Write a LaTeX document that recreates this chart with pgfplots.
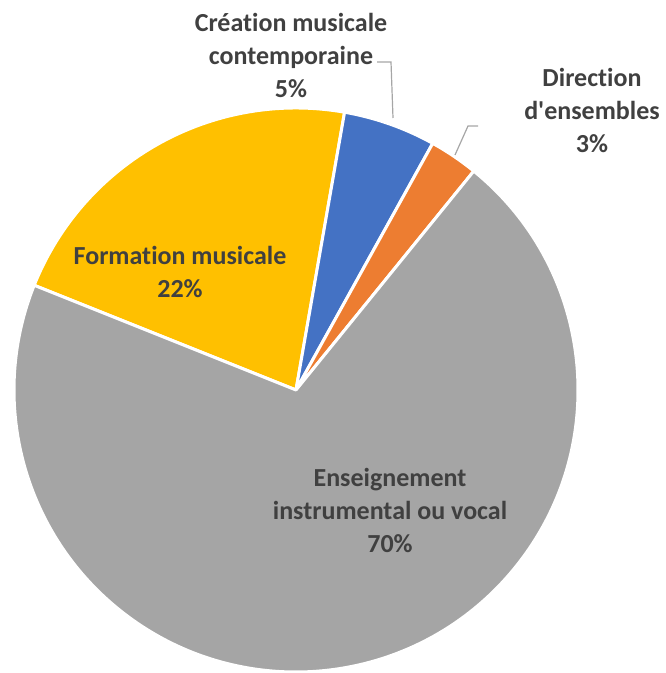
\documentclass[border=0pt]{standalone}
\usepackage{fontspec}
\setmainfont{Carlito}[Ligatures={TeX,NoCommon}]
\usepackage{pgfplots}
\pgfplotsset{compat=1.18}
\definecolor{cYel}{HTML}{FFC000}
\definecolor{cBlue}{HTML}{4472C4}
\definecolor{cOr}{HTML}{ED7D31}
\definecolor{cGrey}{HTML}{A5A5A5}
\definecolor{txt}{HTML}{404040}
\definecolor{lead}{HTML}{A6A6A6}
\tikzset{lbl/.style={align=center, text=txt, font=\fontsize{26}{33}\selectfont\bfseries}}

% pie centre and radius, in picture units (1pt = 1px of the reference)
\def\cx{296}\def\cy{283}\def\R{282}
\def\ang{158.2}
% one slice: share in percent, colour; runs clockwise from \ang
\newcommand\slice[2]{%
  \pgfmathsetmacro\ea{\ang-3.6*#1}%
  \edef\tmp{\noexpand\fill[#2, draw=white, line width=3pt, line join=round]
    (axis cs:\cx,\cy) -- ++(\ang:\R pt) arc[start angle=\ang, end angle=\ea, radius=\R pt] -- cycle;}%
  \tmp
  \xdef\ang{\ea}}

\begin{document}
\begin{tikzpicture}
\begin{axis}[name=ax,
  x=1pt, y=1pt,
  xmin=0, xmax=665, ymin=0, ymax=673,
  scale only axis, hide axis, clip=false]
\slice{21.7}{cYel}
\slice{5.3}{cBlue}
\slice{2.8}{cOr}
\slice{70.2}{cGrey}

\draw[lead, line width=1.2pt] (axis cs:377,611) -- (axis cs:391,611) -- (axis cs:393,555);
\draw[lead, line width=1.2pt] (axis cs:478,547) -- (axis cs:468,547) -- (axis cs:455,518);

\node[lbl] at (axis cs:291,618) {Création musicale\\contemporaine\\5\%};
\node[lbl] at (axis cs:592,563) {Direction\\d\textquotesingle ensembles\\3\%};
\node[lbl] at (axis cs:180,401) {Formation musicale\\22\%};
\node[lbl] at (axis cs:390,163) {Enseignement\\instrumental ou vocal\\70\%};
\end{axis}
\pgfresetboundingbox
\path[use as bounding box] (ax.south west) rectangle (ax.north east);
\end{tikzpicture}
\end{document}
